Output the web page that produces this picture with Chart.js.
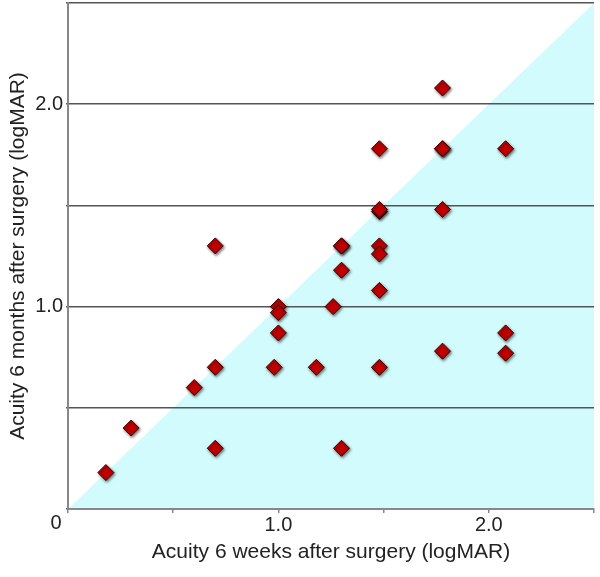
<!DOCTYPE html>
<html>
<head>
<meta charset="utf-8">
<script src="https://cdn.jsdelivr.net/npm/chart.js@4"></script>
<style>
  html, body { margin: 0; padding: 0; background: #fff; }
  #wrap { width: 600px; height: 577px; position: relative; }
</style>
</head>
<body>
<div id="wrap"><canvas id="chart"></canvas></div>
<script>
// acuity 6 weeks after surgery (x) vs 6 months after surgery (y), logMAR
const weeks6 = [0.18, 0.3, 0.6, 0.7, 0.7, 0.7, 1.3, 1.3, 1.48, 1.48, 1.3, 1.48, 1.0, 1.0,
  1.26, 1.0, 1.78, 0.98, 1.18, 1.48, 1.3, 2.08, 2.08, 1.78, 1.48, 1.78, 1.78, 2.08,
  1.48, 1.48, 1.78];
const months6 = [0.18, 0.4, 0.6, 0.7, 0.3, 1.3, 1.3, 1.3, 1.3, 1.26, 1.18, 1.08, 1.0, 0.97,
  1.0, 0.87, 0.78, 0.7, 0.7, 0.7, 0.3, 0.87, 0.77, 2.08, 1.78, 1.78, 1.78, 1.78,
  1.47, 1.48, 1.48];

// line of equality, area below it is shaded
const diagX = [0, 2.5];
const diagY = [0, 2.5];

const yTickLabels = { 1: "1.0", 2: "2.0" };
const xTickLabels = { 1: "1.0", 2: "2.0" };
const originLabel = "0";

const FONT = "'Liberation Sans', Arial, sans-serif";

const points = weeks6.map((x, i) => ({ x: x, y: months6[i] }));
const diag = diagX.map((x, i) => ({ x: x, y: diagY[i] }));

// drop shadow behind the diamonds
const shadowPlugin = {
  id: "shadow",
  beforeDatasetDraw(chart, args) {
    if (args.index !== 1) return;
    const ctx = chart.ctx;
    ctx.save();
    ctx.shadowColor = "rgba(0,0,0,0.55)";
    ctx.shadowBlur = 3;
    ctx.shadowOffsetX = 1;
    ctx.shadowOffsetY = 1.5;
  },
  afterDatasetDraw(chart, args) {
    if (args.index !== 1) return;
    chart.ctx.restore();
  },
};

// single "0" at the corner of the axes
const originPlugin = {
  id: "origin",
  afterDraw(chart) {
    const ctx = chart.ctx;
    ctx.save();
    ctx.font = "20px " + FONT;
    ctx.fillStyle = "#222";
    ctx.textAlign = "center";
    ctx.textBaseline = "middle";
    ctx.fillText(originLabel, chart.chartArea.left - 12, chart.chartArea.bottom + 14);
    ctx.restore();
  },
};

new Chart(document.getElementById("chart"), {
  type: "scatter",
  data: {
    datasets: [
      {
        type: "line",
        data: diag,
        borderWidth: 0,
        pointRadius: 0,
        backgroundColor: "#d2fbfd",
        fill: "origin",
      },
      {
        data: points,
        pointStyle: "rectRot",
        pointRadius: 8,
        pointHoverRadius: 8,
        backgroundColor: "#c00000",
        borderColor: "#3a0000",
        borderWidth: 1,
      },
    ],
  },
  options: {
    responsive: true,
    maintainAspectRatio: false,
    animation: false,
    layout: { autoPadding: false, padding: { top: 3, right: 6, left: 0, bottom: 0 } },
    plugins: {
      legend: { display: false },
      tooltip: { enabled: false },
      filler: { drawTime: "beforeDraw" },
    },
    scales: {
      x: {
        type: "linear",
        min: 0,
        max: 2.5,
        afterFit(scale) {
          scale.height = 68;
          scale.paddingLeft = 0;
          scale.paddingRight = 0;
        },
        ticks: {
          stepSize: 0.5,
          autoSkip: false,
          maxRotation: 0,
          padding: 0,
          color: "#222",
          font: { family: FONT, size: 20 },
          callback: (v) => xTickLabels[v] || "",
        },
        grid: { drawOnChartArea: false, drawTicks: true, tickLength: 4, color: "#888", lineWidth: 1.5 },
        border: { color: "#888", width: 2 },
        title: {
          display: true,
          text: "Acuity 6 weeks after surgery (logMAR)",
          color: "#222",
          font: { family: FONT, size: 21 },
          padding: { top: 4, bottom: 12 },
        },
      },
      y: {
        type: "linear",
        min: 0,
        max: 2.5,
        afterFit(scale) {
          scale.width = 68;
          scale.paddingTop = 0;
          scale.paddingBottom = 0;
        },
        ticks: {
          stepSize: 0.5,
          autoSkip: false,
          padding: 3,
          color: "#222",
          font: { family: FONT, size: 20 },
          callback: (v) => yTickLabels[v] || "",
        },
        grid: { color: "#555", lineWidth: 1.5, tickLength: 2 },
        border: { color: "#888", width: 2 },
        title: {
          display: true,
          text: "Acuity 6 months after surgery (logMAR)",
          color: "#222",
          font: { family: FONT, size: 21 },
          padding: { top: 6, bottom: 4 },
        },
      },
    },
  },
  plugins: [shadowPlugin, originPlugin],
});
</script>
</body>
</html>
